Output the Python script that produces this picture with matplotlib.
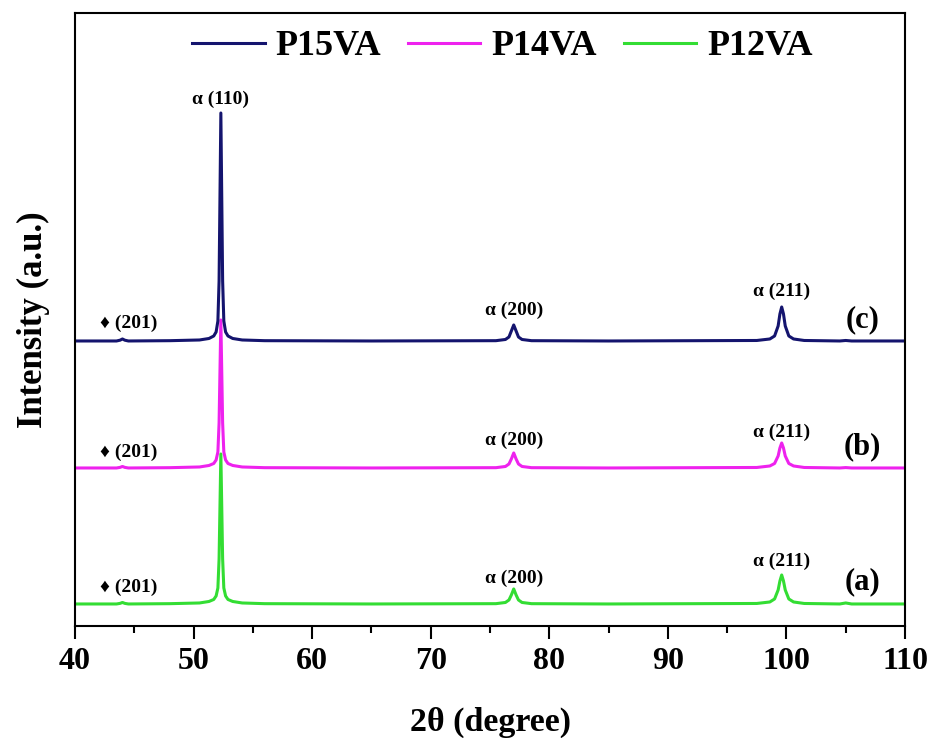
import matplotlib
matplotlib.use("Agg")
import matplotlib.pyplot as plt
from matplotlib.ticker import MultipleLocator

plt.rcParams['font.family'] = ['Liberation Serif', 'DejaVu Serif']
plt.rcParams['font.weight'] = 'bold'

# 2-theta sampling points (degree)
two_theta = [40, 43.5, 43.8, 44.0, 44.2, 44.5, 48, 50.5, 51.3, 51.7, 51.9, 52.05,
             52.15, 52.3, 52.45, 52.55, 52.7, 52.9, 53.3, 54.1, 56, 65, 75.5, 76.3,
             76.6, 76.8, 77.0, 77.2, 77.4, 77.7, 78.5, 85, 97.5, 98.6, 99.0, 99.3,
             99.45, 99.6, 99.75, 99.9, 100.2, 100.6, 101.5, 104.5, 105, 105.5, 110]

# Intensities (a.u.) above each pattern's own baseline
p15va = [0, 0, 0.8, 2, 0.8, 0, 0.3, 1, 2.5, 5, 9, 20,
         60, 228, 60, 20, 9, 5, 2.5, 1, 0.3, 0, 0.3, 1.5,
         4, 10, 16, 10, 4, 1.5, 0.3, 0, 0.5, 2, 5, 15,
         27, 34, 27, 15, 5, 2, 0.5, 0, 0.5, 0, 0]
p14va = [0, 0, 0.6, 1.5, 0.6, 0, 0.3, 1, 2.5, 4.5, 8, 16,
         45, 148, 45, 16, 8, 4.5, 2.5, 1, 0.3, 0, 0.3, 1.5,
         4, 9, 15, 9, 4, 1.5, 0.3, 0, 0.5, 2, 4.5, 12,
         20, 25, 20, 12, 4.5, 2, 0.5, 0, 0.4, 0, 0]
p12va = [0, 0, 0.6, 1.5, 0.6, 0, 0.3, 1, 2.5, 4.5, 8, 16,
         45, 150, 45, 16, 8, 4.5, 2.5, 1, 0.3, 0, 0.3, 1.5,
         4, 9, 15, 9, 4, 1.5, 0.3, 0, 0.5, 2, 5, 14,
         23, 29, 23, 14, 5, 2, 0.5, 0, 1, 0, 0]

series_names = ['P15VA', 'P14VA', 'P12VA']
series_tags = ['(c)', '(b)', '(a)']
series_offsets = [263, 136, 0]
series_colors = ['#14146e', '#ee22ee', '#33dd33']

# Reflection labels: (text, 2-theta, height above baseline)
reflections = {
    'P15VA': [('\u2666 (201)', 44.5, 18), ('\u03b1 (200)', 77.0, 31),
              ('\u03b1 (211)', 99.6, 50), ('\u03b1 (110)', 52.3, 242)],
    'P14VA': [('\u2666 (201)', 44.5, 16), ('\u03b1 (200)', 77.0, 28),
              ('\u03b1 (211)', 99.6, 36)],
    'P12VA': [('\u2666 (201)', 44.5, 17), ('\u03b1 (200)', 77.0, 26),
              ('\u03b1 (211)', 99.6, 43)],
}
tag_heights = [21, 21, 22]

fig = plt.figure(figsize=(9.33, 7.38), dpi=100)
ax = fig.add_axes([0.0804, 0.1518, 0.8896, 0.8306])

lines = {}
for name, ys, off, col in reversed(list(zip(series_names, [p15va, p14va, p12va],
                                             series_offsets, series_colors))):
    ln, = ax.plot(two_theta, [v + off for v in ys], color=col, lw=2.2,
                  solid_joinstyle='round')
    lines[name] = ln

for name, off in zip(series_names, series_offsets):
    for txt, x, h in reflections[name]:
        ax.text(x, off + h, txt, fontsize=14, fontweight='bold', ha='center', va='center')

for tag, off, h in zip(series_tags, series_offsets, tag_heights):
    ax.text(106.4, off + h, tag, fontsize=22, fontweight='bold', ha='center', va='center')

ax.set_xlim(40, 110)
ax.set_ylim(-22, 591)
ax.xaxis.set_major_locator(MultipleLocator(10))
ax.xaxis.set_minor_locator(MultipleLocator(5))
ax.tick_params(axis='x', which='major', direction='out', length=9, width=1.5,
               labelsize=23, pad=6)
ax.tick_params(axis='x', which='minor', direction='out', length=5, width=1.5)
ax.set_yticks([])
for lbl in ax.get_xticklabels():
    lbl.set_fontweight('bold')
for sp in ax.spines.values():
    sp.set_linewidth(1.5)

ax.set_xlabel('2\u03b8 (degree)', fontsize=24.5, fontweight='bold', labelpad=22)
ax.set_ylabel('Intensity (a.u.)', fontsize=25, fontweight='bold', labelpad=18)

ax.legend([lines[n] for n in series_names], series_names, loc='upper center',
          ncol=3, frameon=False, handlelength=2.0, columnspacing=0.75,
          handletextpad=0.3, bbox_to_anchor=(0.515, 1.025),
          prop={'weight': 'bold', 'size': 26})

fig.savefig('out.png', dpi=100)
